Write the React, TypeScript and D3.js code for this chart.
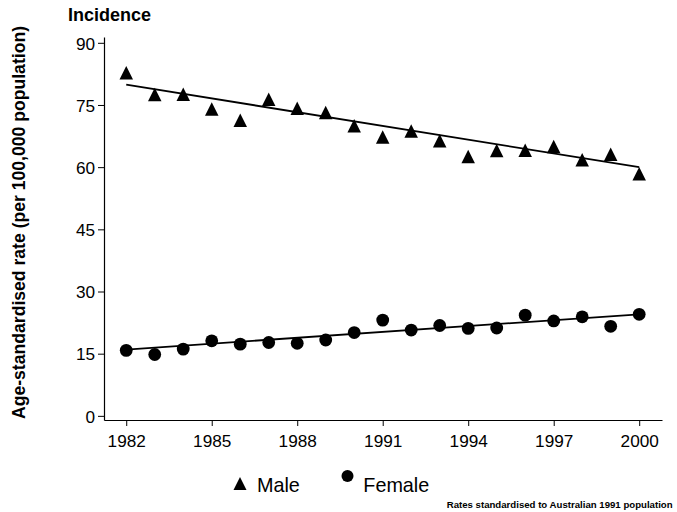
import React, { useEffect, useRef } from "react";
import * as d3 from "d3";

// Age-standardised incidence by year, with fitted linear trends
const years = [1982, 1983, 1984, 1985, 1986, 1987, 1988, 1989, 1990, 1991, 1992, 1993, 1994, 1995, 1996, 1997, 1998, 1999, 2000];
const maleRates = [82.8, 77.5, 77.6, 74.0, 71.3, 76.4, 74.2, 73.2, 70.0, 67.3, 68.7, 66.4, 62.6, 64.0, 64.1, 65.0, 61.8, 63.1, 58.4];
const femaleRates = [15.8, 14.8, 16.1, 18.1, 17.3, 17.7, 17.5, 18.3, 20.1, 23.1, 20.7, 21.8, 21.1, 21.2, 24.3, 22.9, 23.9, 21.6, 24.5];
const trendYears = [1982, 2000];
const maleTrend = [79.9, 60.0];
const femaleTrend = [16.0, 24.5];
const xTicks = [1982, 1985, 1988, 1991, 1994, 1997, 2000];
const yTicks = [0, 15, 30, 45, 60, 75, 90];

const W = 677;
const H = 512;
const FONT = "Liberation Sans, Arial, Helvetica, sans-serif";

// isosceles triangle centred on its bounding box
const triPath = (w: number, h: number) => {
  const p = d3.path();
  p.moveTo(0, -h / 2);
  p.lineTo(w / 2, h / 2);
  p.lineTo(-w / 2, h / 2);
  p.closePath();
  return p.toString();
};

export default function App() {
  const ref = useRef<SVGSVGElement>(null);

  useEffect(() => {
    const svg = d3.select(ref.current);
    svg.selectAll("*").remove();

    const x = d3.scaleLinear().domain([1981.22, 2000.8]).range([104, 662]);
    const y = d3.scaleLinear().domain([-1.0, 91.4]).range([420, 37]);

    // y axis
    const gy = svg.append("g").attr("transform", "translate(104,0)");
    gy.call(d3.axisLeft(y).tickValues(yTicks).tickSize(6).tickSizeOuter(0).tickFormat(d3.format("d")) as any);
    gy.select(".domain").attr("stroke", "#000").attr("stroke-width", 1.2);
    gy.selectAll(".tick line").attr("stroke", "#000");
    gy.selectAll(".tick text")
      .attr("x", -9)
      .attr("dy", "0.36em")
      .attr("font-family", FONT)
      .attr("font-size", 17.2)
      .attr("fill", "#000");

    // x axis
    const gx = svg.append("g").attr("transform", "translate(0,420)");
    gx.call(d3.axisBottom(x).tickValues(xTicks).tickSize(6).tickSizeOuter(0).tickFormat(d3.format("d")) as any);
    gx.select(".domain").attr("stroke", "#000").attr("stroke-width", 1.2);
    gx.selectAll(".tick line").attr("stroke", "#000");
    gx.selectAll(".tick text")
      .attr("y", 27)
      .attr("dy", 0)
      .attr("font-family", FONT)
      .attr("font-size", 17.2)
      .attr("fill", "#000");

    const line = d3
      .line<number>()
      .x((_, i) => x(trendYears[i]))
      .y((d) => y(d));

    svg.append("path").attr("d", line(maleTrend)).attr("fill", "none").attr("stroke", "#000").attr("stroke-width", 1.8);
    svg.append("path").attr("d", line(femaleTrend)).attr("fill", "none").attr("stroke", "#000").attr("stroke-width", 1.8);

    svg
      .append("g")
      .selectAll("path")
      .data(maleRates)
      .join("path")
      .attr("d", triPath(13.5, 13.5))
      .attr("transform", (d, i) => `translate(${x(years[i])},${y(d)})`)
      .attr("fill", "#000");

    svg
      .append("g")
      .selectAll("circle")
      .data(femaleRates)
      .join("circle")
      .attr("cx", (_, i) => x(years[i]))
      .attr("cy", (d) => y(d))
      .attr("r", 6.4)
      .attr("fill", "#000");

    // titles
    svg
      .append("text")
      .attr("x", 68)
      .attr("y", 21)
      .attr("font-family", FONT)
      .attr("font-weight", "bold")
      .attr("font-size", 18)
      .text("Incidence");

    svg
      .append("text")
      .attr("transform", "translate(25,222.5) rotate(-90)")
      .attr("text-anchor", "middle")
      .attr("font-family", FONT)
      .attr("font-weight", "bold")
      .attr("font-size", 17.6)
      .text("Age-standardised rate (per 100,000 population)");

    // legend
    svg.append("path").attr("d", triPath(13, 13)).attr("transform", "translate(240,483.5)").attr("fill", "#000");
    svg
      .append("text")
      .attr("x", 257)
      .attr("y", 492)
      .attr("font-family", FONT)
      .attr("font-size", 19.8)
      .text("Male");
    svg.append("circle").attr("cx", 347.5).attr("cy", 476).attr("r", 6).attr("fill", "#000");
    svg
      .append("text")
      .attr("x", 363.3)
      .attr("y", 492)
      .attr("font-family", FONT)
      .attr("font-size", 19.8)
      .text("Female");

    svg
      .append("text")
      .attr("x", 446.7)
      .attr("y", 507.5)
      .attr("font-family", FONT)
      .attr("font-weight", "bold")
      .attr("font-size", 9.65)
      .text("Rates standardised to Australian 1991 population");
  }, []);

  return (
    <svg
      ref={ref}
      width={W}
      height={H}
      style={{ position: "absolute", left: 0, top: 0, background: "#fff", display: "block" }}
    />
  );
}
